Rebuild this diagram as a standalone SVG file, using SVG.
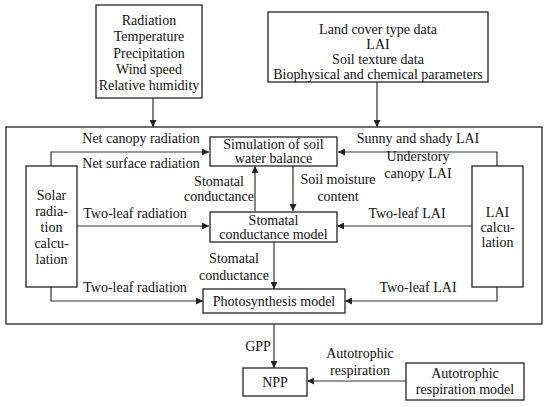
<svg xmlns="http://www.w3.org/2000/svg" width="550" height="407" viewBox="0 0 550 407">
<defs>
<marker id="ah" viewBox="0 0 10 10" refX="10" refY="5" markerWidth="7" markerHeight="7" markerUnits="userSpaceOnUse" orient="auto"><path d="M0,0 L10,5 L0,10 z" fill="#222"/></marker>
<style>
text{font-family:"Liberation Serif","Times New Roman",serif;font-size:14px;fill:#111;text-anchor:middle}
.box{fill:#fff;stroke:#222;stroke-width:1.3}
.ln{fill:none;stroke:#333;stroke-width:1.2}
.ar{fill:none;stroke:#333;stroke-width:1.2;marker-end:url(#ah)}
</style>
</defs>
<rect width="550" height="407" fill="#fff"/>
<g id="outer"><rect class="box" x="6" y="127" width="536" height="197" fill="none" style="fill:none"/></g>
<g id="connectors">
<path class="ar" d="M153,98 V127"/>
<path class="ar" d="M377,82 V127"/>
<path class="ar" d="M51,166 V152 H209"/>
<path class="ar" d="M77,226 H209"/>
<path class="ar" d="M51,287 V301 H203"/>
<path class="ar" d="M497,166 V152 H338"/>
<path class="ar" d="M472,226 H337"/>
<path class="ar" d="M497,287 V301 H345"/>
<path class="ar" d="M255,211 V166"/>
<path class="ar" d="M293,166 V211"/>
<path class="ar" d="M274,242 V289"/>
<path class="ar" d="M274,324 V368"/>
<path class="ar" d="M406,381 H307"/>
</g>
<g id="weather"><rect class="box" x="96" y="5" width="106" height="93"/>
<text x="149" y="25">Radiation</text><text x="149" y="41">Temperature</text><text x="149" y="58">Precipitation</text><text x="149" y="74">Wind speed</text><text x="149" y="90">Relative humidity</text></g>
<g id="landcover"><rect class="box" x="268" y="12" width="220" height="70"/>
<text x="378" y="34">Land cover type data</text><text x="378" y="49">LAI</text><text x="378" y="64">Soil texture data</text><text x="378" y="79">Biophysical and chemical parameters</text></g>
<g id="solar"><rect class="box" x="26" y="166" width="51" height="121"/>
<text x="51.5" y="200">Solar</text><text x="51.5" y="216">radia-</text><text x="51.5" y="232">tion</text><text x="51.5" y="248">calcu-</text><text x="51.5" y="264">lation</text></g>
<g id="lai"><rect class="box" x="472" y="166" width="51" height="121"/>
<text x="497.5" y="217">LAI</text><text x="497.5" y="232">calcu-</text><text x="497.5" y="247">lation</text></g>
<g id="water"><rect class="box" x="210" y="137" width="127" height="29"/>
<text x="273.5" y="149">Simulation of soil</text><text x="273.5" y="163">water balance</text></g>
<g id="stomatal"><rect class="box" x="210" y="212" width="127" height="30"/>
<text x="273.5" y="225">Stomatal</text><text x="273.5" y="239">conductance model</text></g>
<g id="photo"><rect class="box" x="203" y="289" width="142" height="24"/>
<text x="274" y="306">Photosynthesis model</text></g>
<g id="npp"><rect class="box" x="243" y="368" width="64" height="28"/>
<text x="275" y="387">NPP</text></g>
<g id="autoresp"><rect class="box" x="406" y="363" width="118" height="37"/>
<text x="465" y="378">Autotrophic</text><text x="465" y="394">respiration model</text></g>
<g id="labels">
<text x="141" y="143">Net canopy radiation</text>
<text x="141" y="168">Net surface radiation</text>
<text x="135" y="218">Two-leaf radiation</text>
<text x="135" y="292">Two-leaf radiation</text>
<text x="219" y="186">Stomatal</text><text x="219" y="201">conductance</text>
<text x="338" y="184">Soil moisture</text><text x="338" y="201">content</text>
<text x="418" y="143">Sunny and shady LAI</text>
<text x="418" y="161">Understory</text><text x="418" y="178">canopy LAI</text>
<text x="407" y="218">Two-leaf LAI</text>
<text x="418" y="292">Two-leaf LAI</text>
<text x="234" y="263">Stomatal</text><text x="234" y="280">conductance</text>
<text x="258" y="351">GPP</text>
<text x="360" y="358">Autotrophic</text><text x="360" y="375">respiration</text>
</g>
</svg>
